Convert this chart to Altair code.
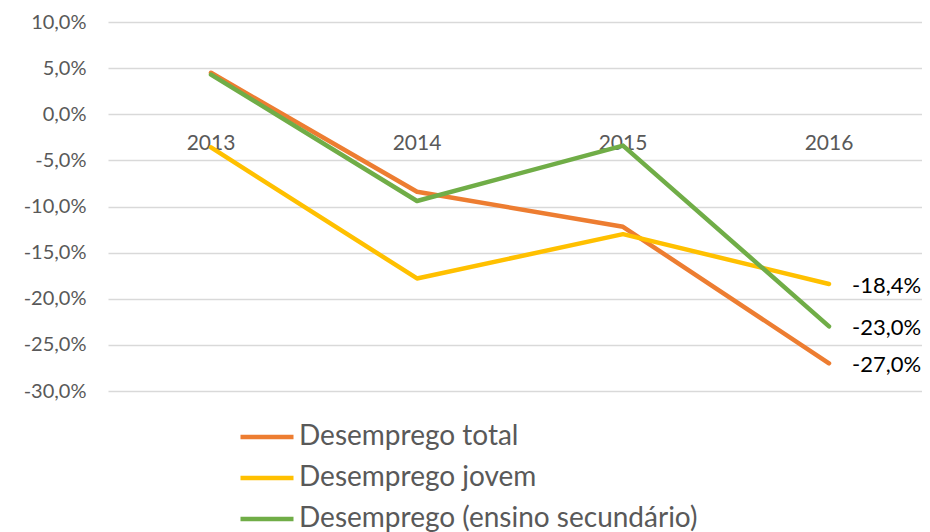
import altair as alt
import pandas as pd

years = ["2013", "2014", "2015", "2016"]
series = ["Desemprego total", "Desemprego jovem", "Desemprego (ensino secundário)"]
colors = ["#ED7D31", "#FFC000", "#70AD47"]
total = [4.5, -8.4, -12.2, -27.0]
jovem = [-3.6, -17.8, -13.0, -18.4]
secundario = [4.3, -9.4, -3.4, -23.0]
y_ticks = [10, 5, 0, -5, -10, -15, -20, -25, -30]

rows = []
for s, vals in zip(series, [total, jovem, secundario]):
    for i, (yr, v) in enumerate(zip(years, vals)):
        rows.append({"serie": s, "ano": yr, "valor": v, "ordem": series.index(s)})
df = pd.DataFrame(rows)
years_df = pd.DataFrame({"ano": years})

FONT = "Lato"
GREY = "#595959"

x = alt.X("ano:O", scale=alt.Scale(type="point", domain=years, padding=0.4757, align=0.5255), axis=None)
yscale = alt.Scale(domain=[-30, 10], nice=False)
fmt = "replace(replace(format(datum.value, '.1f'), '.', ','), '\u2212', '-') + '%'"

year_labels = alt.Chart(years_df).mark_text(
    dy=30, fontSize=21, font=FONT, color=GREY, baseline="middle", align="center"
).encode(
    x=x,
    y=alt.Y(datum=0, type="quantitative", scale=yscale, axis=alt.Axis(
        values=y_ticks, labelExpr=fmt, domain=False, ticks=False, labelPadding=22,
        labelFontSize=20, labelColor=GREY, labelFont=FONT, grid=True,
        gridColor="#d9d9d9", gridWidth=1.5, title=None)),
    text="ano:N",
)

lines = alt.Chart(df).mark_line(strokeWidth=4.5, strokeCap="round", strokeJoin="round").encode(
    x=x,
    y=alt.Y("valor:Q", scale=yscale),
    color=alt.Color("serie:N", scale=alt.Scale(domain=series, range=colors),
                    legend=alt.Legend(orient="none", legendX=130, legendY=402, title=None,
                                      symbolType="stroke", symbolSize=2809, symbolStrokeWidth=4.5,
                                      labelFontSize=28, labelFont=FONT, labelColor=GREY,
                                      labelLimit=0, labelOffset=3, rowPadding=13, clipHeight=26,
                                      padding=0)),
    order="ordem:Q",
    detail="serie:N",
)

end_labels = alt.Chart(df).transform_filter(
    alt.datum.ano == "2016"
).transform_calculate(
    rotulo="replace(replace(format(datum.valor, '.1f'), '.', ','), '\u2212', '-') + '%'"
).mark_text(align="left", baseline="middle", dx=23, dy=2, fontSize=22, font=FONT, color="#000000").encode(
    x=x,
    y=alt.Y("valor:Q", scale=yscale),
    text="rotulo:N",
)

chart = alt.layer(year_labels, lines, end_labels).properties(
    width=814, height=369,
    autosize=alt.AutoSizeParams(type="none"),
    padding={"left": 100, "top": 14, "right": 0, "bottom": 141},
    background="white",
).configure_view(stroke=None)

chart.save("out.html", embed_options={"renderer": "svg", "actions": False})
